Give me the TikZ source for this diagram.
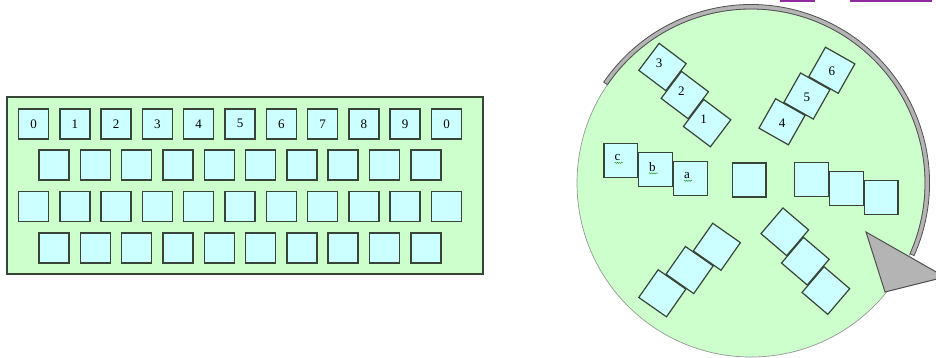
\documentclass[tikz,border=0pt]{standalone}
\usepackage{fontspec}
\setmainfont{Liberation Serif}
\usetikzlibrary{decorations.pathmorphing}
\definecolor{PadGreen}{HTML}{CCFFCC}
\definecolor{KeyCyan}{HTML}{CCFFFF}
\definecolor{KeyEdge}{HTML}{374437}
\definecolor{RimGray}{HTML}{B4B4B4}
\definecolor{RimEdge}{HTML}{505050}
\definecolor{TitlePurple}{HTML}{8E2C9E}
\definecolor{SpellGreen}{HTML}{2EA02E}

\begin{document}
\begin{tikzpicture}[
    x=1pt, y=-1pt,
    key/.style={
      rectangle, draw=KeyEdge, line width=1.5pt, fill=KeyCyan,
      minimum size=30pt, inner sep=0pt,
      font=\fontsize{13}{13}\selectfont
    },
    tile/.style={
      rectangle, draw=KeyEdge, line width=1.2pt, fill=KeyCyan,
      minimum size=33.8pt, inner sep=0pt
    },
    tag/.style={inner sep=0pt, font=\fontsize{13}{13}\selectfont},
    squiggle/.style={
      SpellGreen, line width=0.5pt, decorate,
      decoration={snake, segment length=2.2pt, amplitude=0.6pt}
    }
  ]
    \useasboundingbox (0,0) rectangle (936,358);
    \clip (0,0) rectangle (936,358);

    %% Title fragments
    \fill[TitlePurple] (780,0) rectangle (815,1.6);
    \fill[TitlePurple] (850,0) rectangle (932,1.6);

    %% Keyboard
    \node[draw=KeyEdge, line width=1.2pt, fill=PadGreen, minimum width=476pt,
      minimum height=177pt, inner sep=0pt] (board) at (245,185.5) {};
    \foreach \lbl [count=\i from 0] in {0,1,2,3,4,5,6,7,8,9,0}
      \node[key] (top\i) at (33.5+41.3*\i, 123.8) {\lbl};
    \foreach \i in {0,...,9}
      \node[key] (upper\i) at (54.1+41.3*\i, 165) {};
    \foreach \i in {0,...,10}
      \node[key] (home\i) at (33.5+41.3*\i, 206.5) {};
    \foreach \i in {0,...,9}
      \node[key] (lower\i) at (54.1+41.3*\i, 248) {};

    %% Bubble
    \node[circle, draw=RimEdge!60, line width=0.7pt, fill=PadGreen,
      minimum size=348pt, inner sep=0pt] (bubble) at (751,183) {};
    \filldraw[fill=RimGray, draw=RimEdge, line width=0.8pt]
      (bubble.center) ++(-145.6:174) arc[start angle=-145.6, end angle=24, radius=174]
      -- ++(24:4.5) arc[start angle=24, end angle=-145.6, radius=178.5] -- cycle;
    \coordinate (tipa) at (866,232);
    \coordinate (tipb) at (945,277);
    \coordinate (tipc) at (885,292);
    \filldraw[fill=RimGray, draw=RimEdge, line width=1pt] (tipa) -- (tipb) -- (tipc) -- cycle;

    %% Tile groups
    \node[tile] (mid) at (749,180) {};
    \foreach \gx/\gy/\rot/\nm in {620.8/160.8/0/west, 811.7/179.5/0/east,
        662.5/67/-37/nw, 782/121.8/60.5/ne, 662.3/293.3/55/sw, 784.8/231.8/-40.5/se}{
      \begin{scope}[shift={(\gx,\gy)}, rotate=\rot]
        \foreach \k in {0,1,2}
          \node[tile, rotate=\rot] (\nm\k) at (34.7*\k, 9*\k) {};
      \end{scope}
    }

    %% Labels
    \foreach \txt [count=\k from 0] in {c,b,a}
      \node[tag] (tag\txt) at ([xshift=-3.2pt, yshift=3.1pt]west\k.center) {\txt};
    \foreach \txt [count=\k from 0] in {3,2,1}
      \node[tag] at ([xshift=-3.5pt, yshift=3.8pt]nw\k.center) {\txt};
    \foreach \txt [count=\k from 0] in {4,5,6}
      \node[tag] at ([yshift=-1pt]ne\k.center) {\txt};
    \foreach \txt in {c,b,a}
      \draw[squiggle] ([yshift=-1.8pt]tag\txt.south west) -- ([xshift=2pt, yshift=-1.8pt]tag\txt.south east);
  \end{tikzpicture}
\end{document}
